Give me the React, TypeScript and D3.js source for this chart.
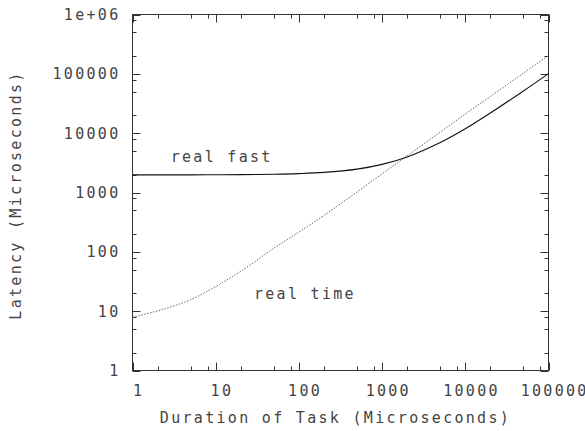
import React, { useEffect, useRef } from "react";
import * as d3 from "d3";

// task durations (microseconds)
const durations = [1, 2, 3, 5, 10, 20, 50, 100, 200, 500, 1000, 2000, 5000, 10000, 20000, 50000, 100000];
// latency for "real fast"
const realFast = [1980, 1982, 1983, 1985, 1990, 2000, 2030, 2080, 2180, 2480, 2980, 3980, 6980, 11900, 21900, 51500, 101000];
// latency for "real time"
const realTime = [7.9, 10.1, 12.0, 15.6, 26, 47, 115, 215, 410, 1020, 2060, 4150, 10400, 21000, 41500, 103000, 204000];

const xTicks = [1, 10, 100, 1000, 10000, 100000];
const xTickLabels = ["1", "10", "100", "1000", "10000", "100000"];
const yTicks = [1, 10, 100, 1000, 10000, 100000, 1000000];
const yTickLabels = ["1", "10", "100", "1000", "10000", "100000", "1e+06"];
const minorSteps = [2, 5, 8];

const seriesLabels = [
  { text: "real fast", x: 3, y: 4000 },
  { text: "real time", x: 30, y: 20 },
];

const width = 585;
const height = 431;
const font = "'DejaVu Sans Mono', monospace";
const ink = "#333";

function App() {
  const ref = useRef<SVGSVGElement>(null);

  useEffect(() => {
    const svg = d3.select(ref.current);
    svg.selectAll("*").remove();

    const left = 132.5, right = 548.5, top = 14.5, bottom = 370.5;
    const x = d3.scaleLog().domain([1, 100000]).range([left, right]);
    const y = d3.scaleLog().domain([1, 1000000]).range([bottom, top]);

    const minorX = xTicks.slice(0, -1).flatMap(t => minorSteps.map(m => t * m));
    const minorY = yTicks.slice(0, -1).flatMap(t => minorSteps.map(m => t * m));

    const g = svg.append("g");

    // frame
    g.append("rect").attr("x", left).attr("y", top).attr("width", right - left).attr("height", bottom - top)
      .attr("fill", "none").attr("stroke", ink).attr("stroke-width", 1);

    // ticks on all four sides, pointing inward
    const tickG = g.append("g").attr("stroke", ink).attr("stroke-width", 1);
    const addX = (vals: number[], len: number) => {
      vals.forEach(v => {
        const px = Math.round(x(v)) + 0.5;
        tickG.append("line").attr("x1", px).attr("x2", px).attr("y1", bottom).attr("y2", bottom - len);
        tickG.append("line").attr("x1", px).attr("x2", px).attr("y1", top).attr("y2", top + len);
      });
    };
    const addY = (vals: number[], len: number) => {
      vals.forEach(v => {
        const py = Math.round(y(v)) + 0.5;
        tickG.append("line").attr("y1", py).attr("y2", py).attr("x1", left).attr("x2", left + len);
        tickG.append("line").attr("y1", py).attr("y2", py).attr("x1", right).attr("x2", right - len);
      });
    };
    addX(xTicks, 8);
    addX(minorX, 4);
    addY(yTicks, 8);
    addY(minorY, 4);

    const textStyle = (s: any) => s.attr("font-family", font).attr("font-size", 15)
      .attr("letter-spacing", 2.3).attr("fill", "#444");

    // x tick labels
    g.selectAll(".xl").data(xTicks).join("text").attr("class", "xl")
      .attr("x", d => x(d) + 6.2).attr("y", 395.5).attr("text-anchor", "middle")
      .text((d, i) => xTickLabels[i]).call(textStyle);

    // y tick labels
    g.selectAll(".yl").data(yTicks).join("text").attr("class", "yl")
      .attr("x", 120.5).attr("y", d => y(d) + 5.5).attr("text-anchor", "end")
      .text((d, i) => yTickLabels[i]).call(textStyle);

    // axis titles
    g.append("text").text("Duration of Task (Microseconds)").attr("x", 335.5).attr("y", 423)
      .attr("text-anchor", "middle").call(textStyle);
    g.append("text").text("Latency (Microseconds)").attr("transform", "translate(21, 195) rotate(-90)")
      .attr("text-anchor", "middle").call(textStyle);

    // curves
    const line = d3.line<number>().x((d, i) => x(durations[i])).curve(d3.curveCatmullRom.alpha(0.5));
    g.append("path").attr("d", line.y(d => y(d))(realTime)).attr("fill", "none")
      .attr("stroke", "#666").attr("stroke-width", 1).attr("stroke-dasharray", "1.5,1.5");
    g.append("path").attr("d", line.y(d => y(d))(realFast)).attr("fill", "none")
      .attr("stroke", "#111").attr("stroke-width", 1.1);

    // series labels
    g.selectAll(".sl").data(seriesLabels).join("text").attr("class", "sl")
      .attr("x", d => x(d.x) - 1.5).attr("y", d => y(d.y) + 5.5)
      .text(d => d.text).call(textStyle);
  }, []);

  return (
    <svg ref={ref} width={width} height={height}
      style={{ position: "absolute", left: 0, top: 0, background: "#fff" }} />
  );
}

export default App;
